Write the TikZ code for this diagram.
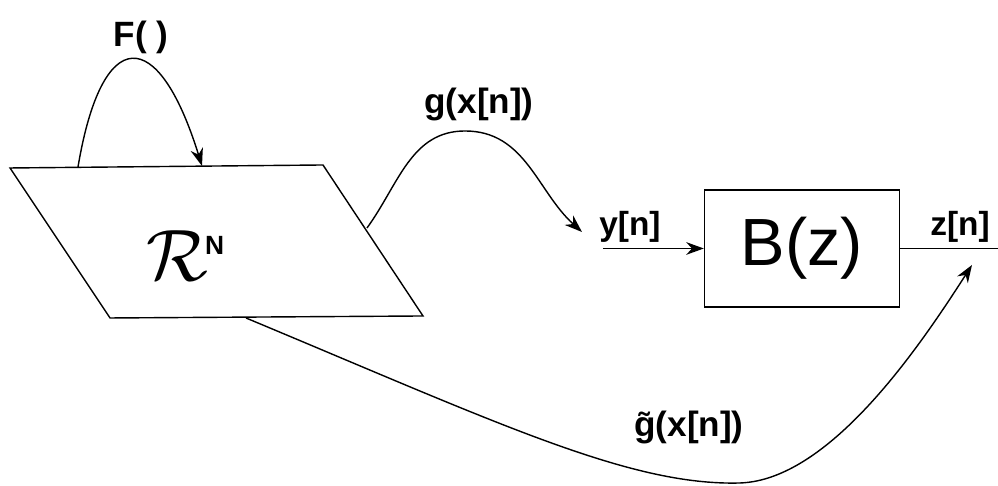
\documentclass[tikz,border=0pt]{standalone}
\usepackage{amsmath}
\usepackage{amssymb}
\usepackage{fontspec}
\setmainfont{Liberation Sans}
\usetikzlibrary{arrows.meta}

\tikzset{
  lbl/.style={font=\fontsize{10}{12}\selectfont\bfseries, inner sep=0pt},
  blockbox/.style={draw, minimum width=1.95cm, minimum height=1.17cm, inner sep=0pt,
    font=\fontsize{19}{22}\selectfont},
}

\begin{document}
\begin{tikzpicture}[scale=1.0, >={Stealth[length=5pt,width=3.6pt]}]
            \useasboundingbox (0,0) rectangle (9.98,4.86);

            % the space
            \coordinate (tl) at (0.10,3.18);
            \coordinate (tr) at (3.23,3.21);
            \coordinate (br) at (4.23,1.70);
            \coordinate (bl) at (1.10,1.68);
            \draw (tl) -- (tr) -- (br) -- (bl) -- cycle;
            \node (space) at (1.86,2.30) {\fontsize{20}{22}\selectfont$\mathcal{R}^{\mkern-1mu\text{\fontsize{7.5}{8}\selectfont\bfseries N}}$};

            \coordinate (fout) at (0.78,3.19);
            \coordinate (fin) at (2.02,3.20);
            \coordinate (gout) at (3.67,2.58);
            \coordinate (gtop) at (4.65,3.55);
            \coordinate (gtout) at (2.46,1.68);
            \coordinate (gtlow) at (7.40,0.03);

            % filter
            \node[blockbox] (filt) at (8.02,2.375) {B(z)};
            \coordinate (yin) at (6.03,2.375);
            \coordinate (zout) at (9.98,2.375);
            \coordinate (ytip) at (5.82,2.54);
            \coordinate (ztip) at (9.72,2.21);

            \draw[->] (fout) .. controls (1.02,4.62) and (1.58,4.62) .. (fin);
            \node[lbl] (flbl) at (1.41,4.49) {F( )};

            \draw (gout) to[out=54,in=180] (gtop);
            \draw[->] (gtop) to[out=0,in=138] (ytip);
            \node[lbl] (glbl) at (4.79,3.81) {g(x[n])};

            \draw[->] (yin) -- (filt.west);
            \node[lbl, font=\fontsize{9.5}{11}\selectfont\bfseries] (ylbl) at (6.30,2.59) {y[n]};
            \draw (filt.east) -- (zout);
            \node[lbl, font=\fontsize{9.5}{11}\selectfont\bfseries] (zlbl) at (9.60,2.59) {z[n]};

            \draw (gtout) .. controls (5.0,0.62) and (6.3,0.0) .. (gtlow);
            \draw[->] (gtlow) .. controls (8.3,0.06) and (9.2,1.4) .. (ztip);
            \node[lbl] (gtlbl) at (6.89,0.58) {\~{g}(x[n])};
        \end{tikzpicture}
\end{document}
